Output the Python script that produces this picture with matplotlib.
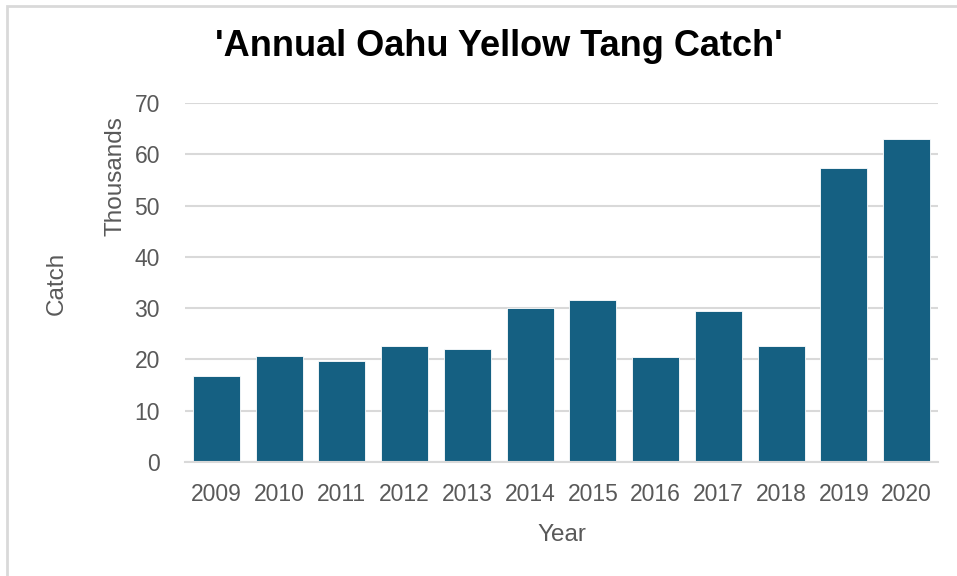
import numpy as np
import matplotlib
matplotlib.use("Agg")
import matplotlib.pyplot as plt
from matplotlib.patches import Rectangle

years = ["2009", "2010", "2011", "2012", "2013", "2014",
         "2015", "2016", "2017", "2018", "2019", "2020"]
catch_thousands = [16.8, 20.7, 19.6, 22.7, 22.1, 30.0,
                   31.6, 20.4, 29.4, 22.6, 57.4, 63.0]
y_ticks = [0, 10, 20, 30, 40, 50, 60, 70]

bar_color = "#156082"
text_color = "#595959"
grid_color = "#D9D9D9"

plt.rcParams['font.family'] = ['Liberation Sans', 'DejaVu Sans']

W, H = 957, 576
fig = plt.figure(figsize=(W / 100, H / 100), dpi=100)
fig.patch.set_facecolor("white")

# chart area border (cropped at right/bottom)
fig.patches.append(Rectangle((6.5 / W, -0.1), 1.2, 1 - 5.5 / H + 0.1,
                             transform=fig.transFigure, fill=False,
                             edgecolor="#D9D9D9", linewidth=2))

ax = fig.add_axes([185 / W, 1 - 462 / H, (938 - 185) / W, (462 - 103) / H])
x = np.arange(len(years))
ax.bar(x, catch_thousands, width=0.75, color=bar_color,
       edgecolor="white", linewidth=0.6, zorder=3)

ax.set_xlim(-0.5, len(years) - 0.5)
ax.set_ylim(0, 70)
ax.set_yticks(y_ticks)
ax.set_xticks(x)
ax.set_xticklabels(years)
ax.grid(axis="y", color=grid_color, linewidth=1.5, zorder=0)
ax.set_axisbelow(True)

for s in ["top", "right", "left"]:
    ax.spines[s].set_visible(False)
ax.spines["bottom"].set_color(grid_color)
ax.spines["bottom"].set_linewidth(1.5)
ax.spines["bottom"].set_zorder(4)

ax.tick_params(axis="both", length=0, labelsize=16.5, colors=text_color)
ax.tick_params(axis="x", pad=15)
ax.tick_params(axis="y", pad=18)

ax.set_xlabel("Year", fontsize=17.5, color=text_color, labelpad=13)

fig.text(57 / W, 1 - 283 / H, "Catch", rotation=90, fontsize=17.5,
         color=text_color, ha="center", va="center")
fig.text(115 / W, 1 - 176 / H, "Thousands", rotation=90, fontsize=17.5,
         color=text_color, ha="center", va="center")

fig.text(499 / W, 1 - 47 / H, "'Annual Oahu Yellow Tang Catch'",
         fontsize=26, fontweight="bold", color="black",
         ha="center", va="center")

fig.savefig("out.png", dpi=100)
